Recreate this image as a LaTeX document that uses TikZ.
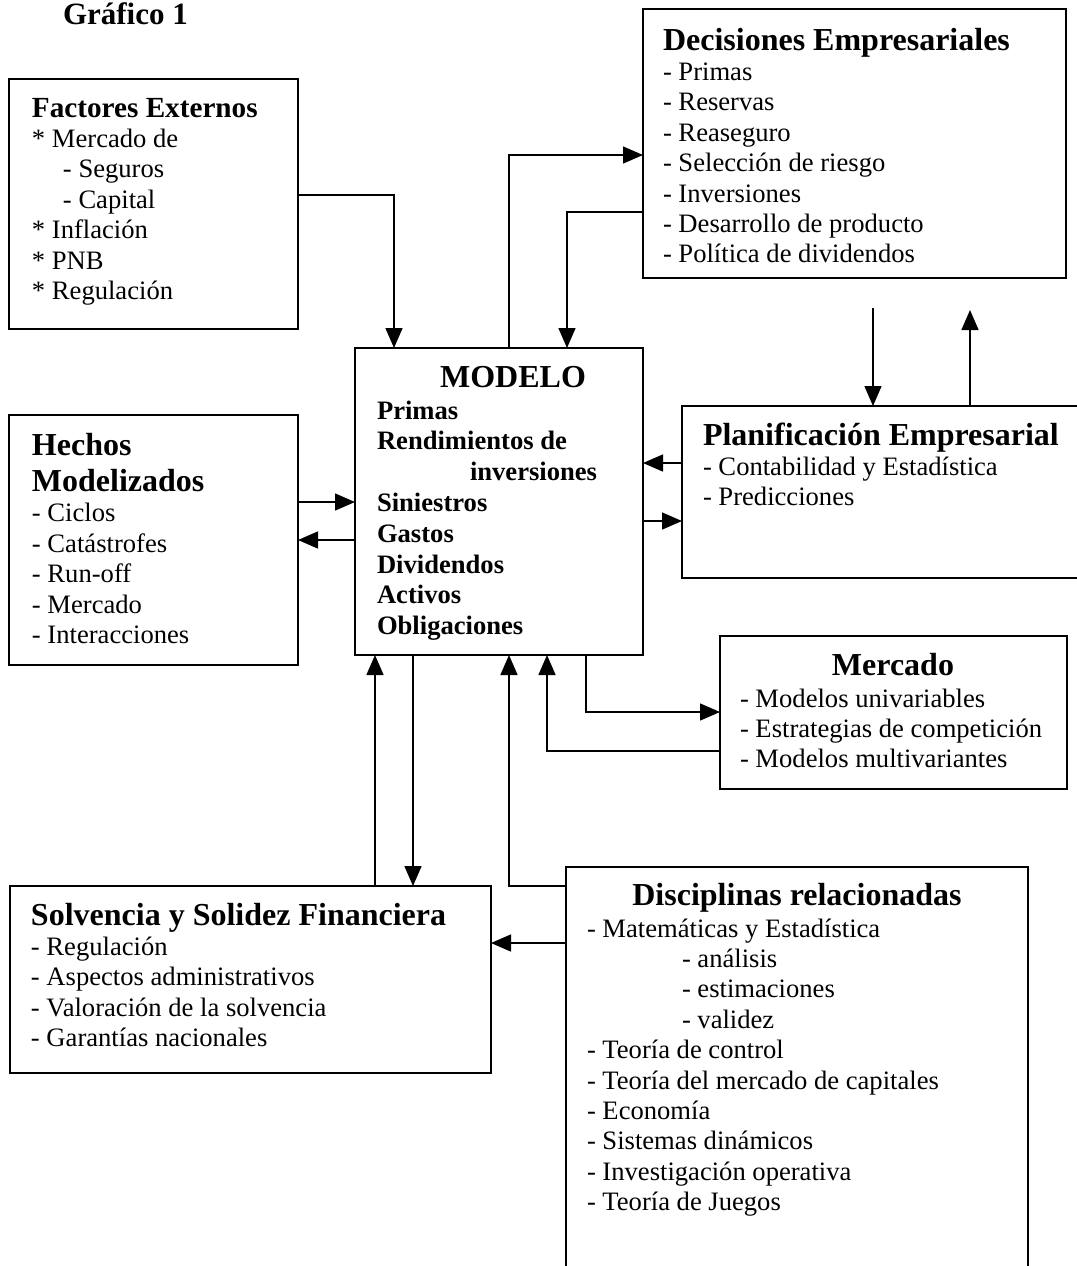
\documentclass[tikz,border=0pt]{standalone}
\usepackage{fontspec}
\setmainfont{Liberation Serif}
\usetikzlibrary{arrows.meta}
\newcommand\myhead{\fontsize{16}{18.2}\selectfont\bfseries}
\newcommand\mybody{\fontsize{13.3}{15.2}\selectfont}
\tikzset{
  box/.style={draw, line width=0.8pt, anchor=north west, inner sep=0pt, outer sep=0pt},
  txt/.style={inner sep=0pt, outer sep=0pt, anchor=base west},
  ctxt/.style={inner sep=0pt, outer sep=0pt, anchor=base},
  conn/.style={line width=0.75pt},
  arr/.style={conn, -{Triangle[length=10pt,width=8.5pt]}},
}
\begin{document}
\begin{tikzpicture}[x=0.5pt,y=-0.5pt]
\useasboundingbox (0,0) rectangle (1077,1266);
\clip (0,0) rectangle (1077,1266);
\fill[white] (0,0) rectangle (1077,1266);

% boxes
\node[box, minimum width=144.5pt, minimum height=125pt] (fe) at (9,79) {};
\node[box, minimum width=211.5pt, minimum height=134.5pt] (de) at (643,9) {};
\node[box, minimum width=144pt, minimum height=153.5pt] (mo) at (355,348) {};
\node[box, minimum width=144.5pt, minimum height=125pt] (he) at (9,415) {};
\node[box, minimum width=209pt, minimum height=86pt] (pl) at (682,406) {};
\node[box, minimum width=173.5pt, minimum height=76.5pt] (me) at (720,636) {};
\node[box, minimum width=240.5pt, minimum height=93.5pt] (so) at (10,886) {};
\node[box, minimum width=231pt, minimum height=211.5pt] (di) at (566,867) {};

% texts
\node[txt] (title) at (63,24) {\fontsize{15.5}{18}\selectfont\bfseries Gráfico 1};

\node[txt] (fet) at (32,117) {\begin{minipage}[t]{200pt}\raggedright
{\fontsize{14.6}{16.8}\selectfont\bfseries Factores Externos\par}
\mybody
* Mercado de\par
\hspace*{15.5pt}- Seguros\par
\hspace*{15.5pt}- Capital\par
* Inflación\par
* PNB\par
* Regulación\par
\end{minipage}};

\node[txt] (det) at (663,50) {\begin{minipage}[t]{240pt}\raggedright
{\myhead Decisiones Empresariales\par}
\mybody
- Primas\par
- Reservas\par
- Reaseguro\par
- Selección de riesgo\par
- Inversiones\par
- Desarrollo de producto\par
- Política de dividendos\par
\end{minipage}};

\node[ctxt] (moh) at (513,387) {\myhead MODELO};
\node[txt] (mot) at (377,419) {\begin{minipage}[t]{200pt}\raggedright
\fontsize{13.3}{15.4}\selectfont\bfseries
Primas\par
Rendimientos de\par
\hspace*{46.5pt}inversiones\par
Siniestros\par
Gastos\par
Dividendos\par
Activos\par
Obligaciones\par
\end{minipage}};

\node[txt] (het) at (32,455) {\begin{minipage}[t]{200pt}\raggedright
{\myhead Hechos\par Modelizados\par}
\mybody
- Ciclos\par
- Catástrofes\par
- Run-off\par
- Mercado\par
- Interacciones\par
\end{minipage}};

\node[txt] (plt) at (703,445) {\begin{minipage}[t]{240pt}\raggedright
{\myhead Planificación Empresarial\par}
\mybody
- Contabilidad y Estadística\par
- Predicciones\par
\end{minipage}};

\node[ctxt] (meh) at (893,675) {\myhead Mercado};
\node[txt] (met) at (740,707) {\begin{minipage}[t]{240pt}\raggedright
\mybody
- Modelos univariables\par
- Estrategias de competición\par
- Modelos multivariantes\par
\end{minipage}};

\node[txt] (sot) at (31,925) {\begin{minipage}[t]{260pt}\raggedright
{\myhead Solvencia y Solidez Financiera\par}
\mybody
- Regulación\par
- Aspectos administrativos\par
- Valoración de la solvencia\par
- Garantías nacionales\par
\end{minipage}};

\node[ctxt] (dih) at (797,905) {\myhead Disciplinas relacionadas};
\node[txt] (dit) at (587,937) {\begin{minipage}[t]{240pt}\raggedright
\mybody
- Matemáticas y Estadística\par
\hspace*{47.5pt}- análisis\par
\hspace*{47.5pt}- estimaciones\par
\hspace*{47.5pt}- validez\par
- Teoría de control\par
- Teoría del mercado de capitales\par
- Economía\par
- Sistemas dinámicos\par
- Investigación operativa\par
- Teoría de Juegos\par
\end{minipage}};

% connectors
\draw[arr] (fe.east |- 0,195) -| (mo.north -| 394,0);
\draw[arr] (mo.north -| 509,0) |- (de.west |- 0,155);
\draw[arr] (de.west |- 0,212) -| (mo.north -| 567,0);
\coordinate (d1) at (873,308);
\coordinate (d2) at (970,310);
\draw[arr] (d1) -- (pl.north -| d1);
\draw[arr] (pl.north -| d2) -- (d2);
\draw[arr] (pl.west |- 0,463) -- (mo.east |- 0,463);
\draw[arr] (mo.east |- 0,521) -- (pl.west |- 0,521);
\draw[arr] (he.east |- 0,502) -- (mo.west |- 0,502);
\draw[arr] (mo.west |- 0,540) -- (he.east |- 0,540);
\draw[arr] (mo.south -| 586,0) |- (me.west |- 0,712);
\draw[arr] (me.west |- 0,751) -| (mo.south -| 547,0);
\draw[arr] (so.north -| 375,0) -- (mo.south -| 375,0);
\draw[arr] (mo.south -| 413,0) -- (so.north -| 413,0);
\draw[arr] (di.west |- 0,886) -| (mo.south -| 509,0);
\draw[arr] (di.west |- 0,943) -- (so.east |- 0,943);
\end{tikzpicture}
\end{document}
